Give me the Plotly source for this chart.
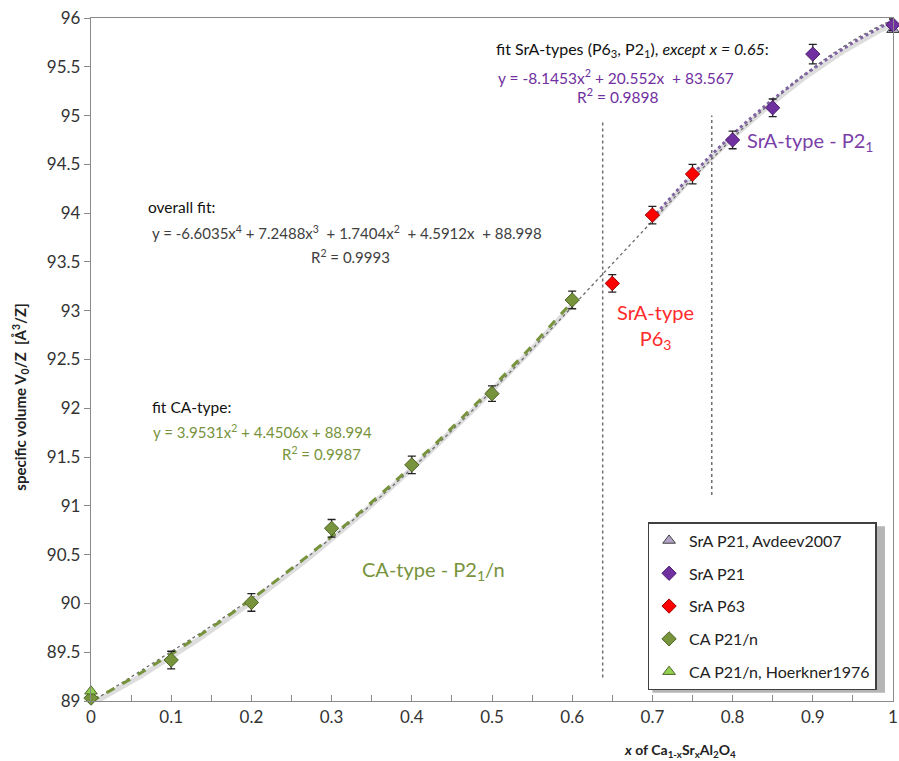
import numpy as np
import plotly.graph_objects as go

# ---- data ----
ca_x = [0.0, 0.1, 0.2, 0.3, 0.4, 0.5, 0.6]
ca_y = [89.03, 89.42, 90.01, 90.77, 91.42, 92.15, 93.11]
ca_err = [0.07, 0.09, 0.09, 0.09, 0.09, 0.08, 0.09]

hoerk_x = [0.0]
hoerk_y = [89.10]

p63_x = [0.65, 0.70, 0.75]
p63_y = [93.28, 93.98, 94.40]
p63_err = [0.09, 0.09, 0.10]

p21_x = [0.80, 0.85, 0.90, 1.00]
p21_y = [94.75, 95.08, 95.63, 95.93]
p21_err = [0.09, 0.09, 0.10, 0.06]

avdeev_x = [1.0]
avdeev_y = [95.88]

boundary_x = [0.638, 0.774]
boundary_ytop = [94.95, 95.0]
boundary_ybot = [89.24, 91.11]

x_ticks = [0, 0.1, 0.2, 0.3, 0.4, 0.5, 0.6, 0.7, 0.8, 0.9, 1]
x_ticklabels = ["0", "0.1", "0.2", "0.3", "0.4", "0.5", "0.6", "0.7", "0.8", "0.9", "1"]
y_ticks = [89, 89.5, 90, 90.5, 91, 91.5, 92, 92.5, 93, 93.5, 94, 94.5, 95, 95.5, 96]

# ---- fits (computed from data, like spreadsheet trendlines) ----
all_x = np.array(ca_x + p63_x + p21_x)
all_y = np.array(ca_y + p63_y + p21_y)
overall_c = np.polyfit(all_x, all_y, 4)
ca_c = np.polyfit(ca_x, ca_y, 2)
sra_fit_x = np.array(p63_x[1:] + p21_x)
sra_fit_y = np.array(p63_y[1:] + p21_y)
sra_c = np.polyfit(sra_fit_x, sra_fit_y, 2)

xs_all = np.linspace(0, 1, 200)
xs_ca = np.linspace(0, 0.6, 120)
xs_sra = np.linspace(0.7, 1.0, 80)

FONT = "Lato"
GREEN = "#77933C"
PURPLE = "#7030A0"

fig = go.Figure()

# overall fit
fig.add_trace(go.Scatter(x=xs_all, y=np.polyval(overall_c, xs_all), mode="lines",
                         line=dict(color="#6a6a6a", width=1.3, dash="dot"),
                         showlegend=False, hoverinfo="skip"))
# CA fit shadow + line
fig.add_trace(go.Scatter(x=xs_ca, y=np.polyval(ca_c, xs_ca) - 0.03, mode="lines",
                         line=dict(color="rgba(120,120,120,0.25)", width=5),
                         showlegend=False, hoverinfo="skip"))
fig.add_trace(go.Scatter(x=xs_ca, y=np.polyval(ca_c, xs_ca), mode="lines",
                         line=dict(color=GREEN, width=3, dash="dash"),
                         showlegend=False, hoverinfo="skip"))
# SrA fit shadow + line
fig.add_trace(go.Scatter(x=xs_sra, y=np.polyval(sra_c, xs_sra) - 0.03, mode="lines",
                         line=dict(color="rgba(120,120,120,0.25)", width=5),
                         showlegend=False, hoverinfo="skip"))
fig.add_trace(go.Scatter(x=xs_sra, y=np.polyval(sra_c, xs_sra), mode="lines",
                         line=dict(color="#8064A2", width=3, dash="dot"),
                         showlegend=False, hoverinfo="skip"))

err_style = dict(type="data", thickness=1.3, width=4, color="#222222")

fig.add_trace(go.Scatter(x=avdeev_x, y=avdeev_y, mode="markers", name="SrA P21, Avdeev2007",
                         legendgroup="a", cliponaxis=False,
                         marker=dict(symbol="triangle-up", size=11, color="#B3A2C7",
                                     line=dict(color="#3f3f3f", width=1))))
fig.add_trace(go.Scatter(x=p21_x, y=p21_y, mode="markers", name="SrA P21",
                         legendgroup="b", cliponaxis=False,
                         error_y=dict(array=p21_err, **err_style),
                         marker=dict(symbol="diamond", size=11, color=PURPLE,
                                     line=dict(color="#4b1f6b", width=1))))
fig.add_trace(go.Scatter(x=p63_x, y=p63_y, mode="markers", name="SrA P63",
                         legendgroup="c", cliponaxis=False,
                         error_y=dict(array=p63_err, **err_style),
                         marker=dict(symbol="diamond", size=11, color="#FF0000",
                                     line=dict(color="#a00000", width=1))))
fig.add_trace(go.Scatter(x=ca_x, y=ca_y, mode="markers", name="CA P21/n",
                         legendgroup="d", cliponaxis=False,
                         error_y=dict(array=ca_err, **err_style),
                         marker=dict(symbol="diamond", size=11, color=GREEN,
                                     line=dict(color="#4F6228", width=1))))
fig.add_trace(go.Scatter(x=hoerk_x, y=hoerk_y, mode="markers", name="CA P21/n, Hoerkner1976",
                         legendgroup="e", cliponaxis=False,
                         marker=dict(symbol="triangle-up", size=11, color="#92D050",
                                     line=dict(color="#4F6228", width=1))))

for bx, yt, yb in zip(boundary_x, boundary_ytop, boundary_ybot):
    fig.add_shape(type="line", xref="x", yref="y", x0=bx, x1=bx, y0=yb, y1=yt,
                  line=dict(color="#6f6f6f", width=1.5, dash="dot"))

# legend shadow
fig.add_shape(type="rect", xref="paper", yref="paper",
              x0=0.700, x1=0.990, y0=0.012, y1=0.256,
              line=dict(width=0), fillcolor="rgba(90,90,90,0.45)", layer="above")

def ann(text, x, y, color="#111111", size=14, xanchor="left"):
    fig.add_annotation(text=text, x=x, y=y, xref="x", yref="y", showarrow=False,
                       xanchor=xanchor, yanchor="middle",
                       font=dict(family=FONT, size=size, color=color))

ann("fit SrA-types (P6<sub>3</sub>, P2<sub>1</sub>), <i>except x = 0.65</i>:", 0.503, 95.68, size=16)
ann("y = -8.1453x<sup>2</sup> + 20.552x  + 83.567", 0.505, 95.40, color=PURPLE, size=15.5)
ann("R<sup>2</sup> = 0.9898", 0.657, 95.21, color=PURPLE, size=15.5, xanchor="center")
ann("overall fit:", 0.069, 94.06, size=15.5)
ann("y = -6.6035x<sup>4</sup> + 7.2488x<sup>3</sup>  + 1.7404x<sup>2</sup>  + 4.5912x  + 88.998", 0.073, 93.80,
    color="#404040", size=15)
ann("R<sup>2</sup> = 0.9993", 0.323, 93.56, color="#404040", size=15, xanchor="center")
ann("fit CA-type:", 0.073, 92.01, size=15.5)
ann("y = 3.9531x<sup>2</sup> + 4.4506x + 88.994", 0.075, 91.76, color=GREEN, size=15)
ann("R<sup>2</sup> = 0.9987", 0.288, 91.54, color=GREEN, size=15, xanchor="center")
ann("CA-type - P2<sub>1</sub>/n", 0.336, 90.34, color=GREEN, size=20)
ann("SrA-type<br>P6<sub>3</sub>", 0.704, 92.84, color="#FF2B2B", size=20, xanchor="center")
ann("SrA-type - P2<sub>1</sub>", 0.816, 94.73, color="#7B3FA8", size=20)

# axis titles
fig.add_annotation(text="<b>specific volume V<sub>0</sub>/Z  [Å<sup>3</sup>/Z]</b>", xref="paper", yref="paper",
                   x=-0.089, y=0.445, xanchor="center", yanchor="middle", textangle=-90, showarrow=False,
                   font=dict(family=FONT, size=15, color="#222222"))
fig.add_annotation(text="<b><i>x</i> of Ca<sub>1-x</sub>Sr<sub>x</sub>Al<sub>2</sub>O<sub>4</sub></b>",
                   xref="paper", yref="paper", x=0.734, y=-0.073, xanchor="center", yanchor="middle",
                   showarrow=False, font=dict(family=FONT, size=14, color="#222222"))

fig.update_layout(
    width=899, height=761,
    margin=dict(l=91, r=6, t=18, b=60, autoexpand=False),
    paper_bgcolor="white", plot_bgcolor="white",
    font=dict(family=FONT, size=14, color="#333333"),
    showlegend=True,
    legend=dict(x=0.694, y=0.262, xanchor="left", yanchor="top",
                bgcolor="white", bordercolor="#404040", borderwidth=1.5,
                tracegroupgap=9, itemwidth=30,
                font=dict(family=FONT, size=16, color="#222222")),
    xaxis=dict(range=[0, 1], tickvals=x_ticks, ticktext=x_ticklabels,
               showgrid=False, zeroline=False, showline=True, linecolor="#8a8a8a", linewidth=1.3,
               mirror=True, ticks="inside", ticklen=6, tickcolor="#8a8a8a",
               ticklabeloverflow="allow",
               minor=dict(dtick=0.05, ticks="inside", ticklen=6, tickcolor="#8a8a8a"),
               tickfont=dict(family=FONT, size=17, color="#333333")),
    yaxis=dict(range=[89, 96], tickvals=y_ticks,
               showgrid=False, zeroline=False, showline=True, linecolor="#8a8a8a", linewidth=1.3,
               mirror=True, ticks="outside", ticklen=6, tickcolor="#8a8a8a",
               ticklabeloverflow="allow",
               tickfont=dict(family=FONT, size=17, color="#333333")),
)

# remove the default 8px page margin so the 899x761 figure fills the window exactly
fig.write_html("out.html", config={"displayModeBar": False},
               post_script="document.body.style.margin='0';document.body.style.overflow='hidden';")
